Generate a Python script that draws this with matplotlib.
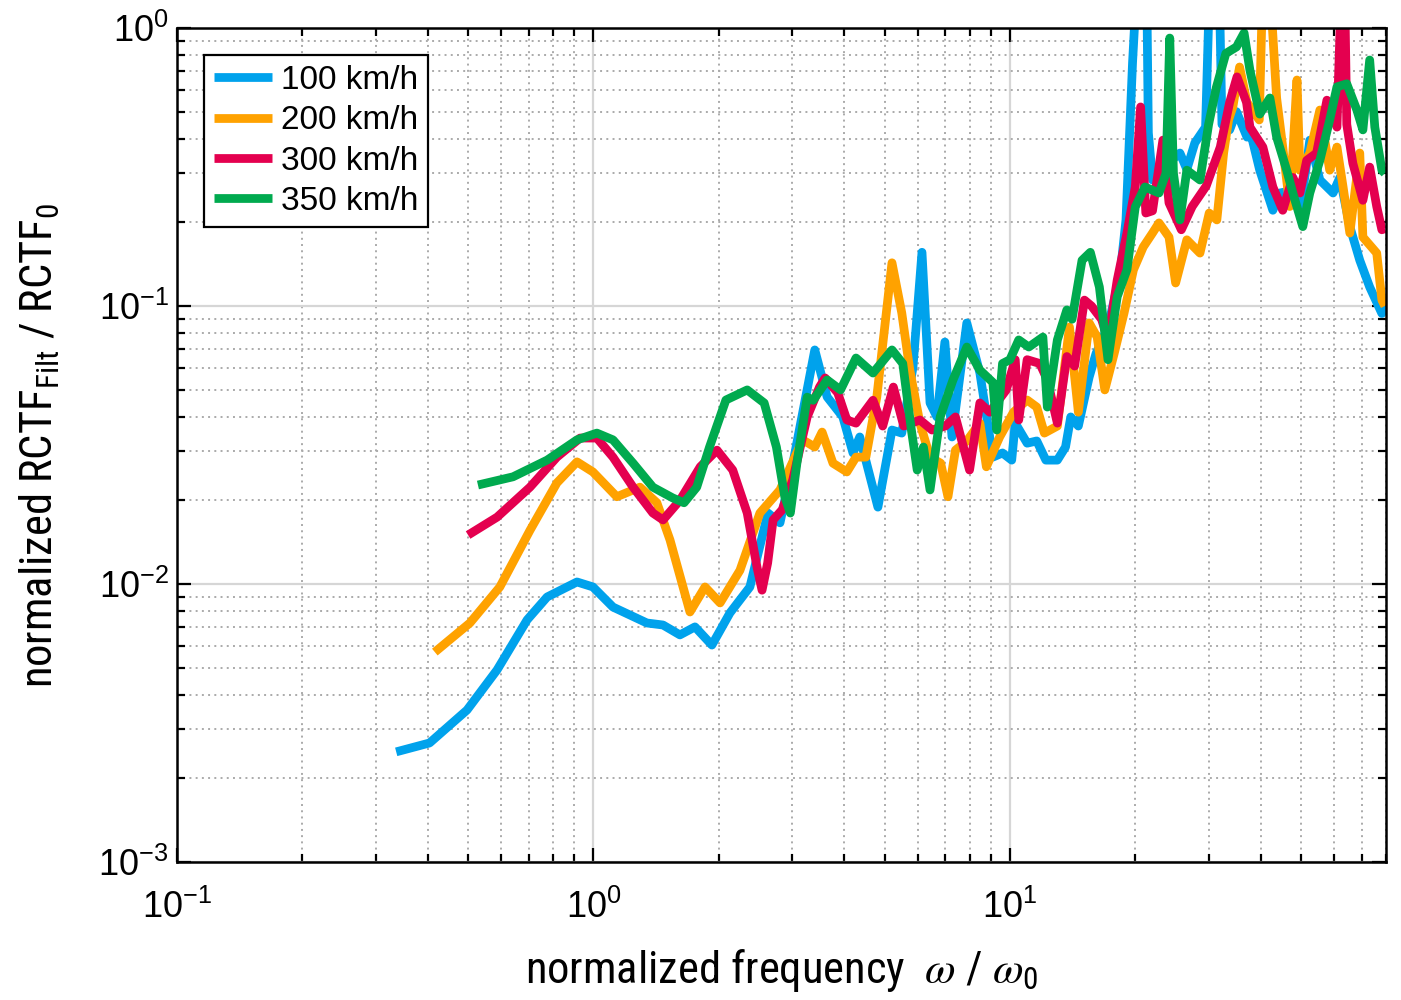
import numpy as np
import matplotlib
matplotlib.use("Agg")
import matplotlib.pyplot as plt
from matplotlib.ticker import LogLocator, NullFormatter


# 100 km/h
x_100 = [0.336, 0.404, 0.497, 0.587, 0.693, 0.774, 0.913, 0.997, 1.114, 1.344,
         1.469, 1.613, 1.753, 1.925, 2.127, 2.375, 2.624, 2.805, 3.013, 3.40,
         3.64, 3.97, 4.20, 4.36, 4.82, 5.21, 5.50, 5.85, 6.15, 6.43, 6.68, 6.98,
         7.26, 7.88, 8.47, 9.1, 9.6, 10.1, 10.3, 11.0, 11.6, 12.2, 13.0, 13.6,
         14.0, 14.6, 15.5, 16.1, 17.2, 18.4, 19.0, 19.7, 20.2, 21.3, 21.5, 22.0,
         23.3, 24.2, 25.6, 26.6, 27.8, 29.5, 30.2, 31.8, 32.3, 33.7, 35.0, 37.1,
         37.7, 39.8, 42.8, 44.5, 47.5, 49.7, 52.5, 55.5, 59.7, 62.0, 65.5, 69.2,
         73.1, 78.2, 79.5]
y_100 = [0.00249, 0.00268, 0.00352, 0.00491, 0.00743, 0.00898, 0.01017, 0.00976,
         0.00826, 0.00724, 0.00712, 0.00656, 0.00701, 0.00603, 0.00787, 0.00976,
         0.0180, 0.0166, 0.0272, 0.0695, 0.0471, 0.0399, 0.0296, 0.0338, 0.0189,
         0.0358, 0.0349, 0.06, 0.156, 0.0448, 0.0399, 0.0742, 0.0338, 0.0869,
         0.0574, 0.0286, 0.0296, 0.0279, 0.0379, 0.0321, 0.0327, 0.0279, 0.0279,
         0.0311, 0.0399, 0.037, 0.0555, 0.0675, 0.084, 0.131, 0.204, 0.75, 1.5,
         1.5, 0.42, 0.284, 0.284, 0.33, 0.355, 0.31, 0.386, 0.44, 1.5, 1.5,
         0.45, 0.43, 0.5, 0.405, 0.43, 0.308, 0.221, 0.255, 0.26, 0.216, 0.395,
         0.284, 0.255, 0.29, 0.193, 0.146, 0.117, 0.094, 0.1]

# 200 km/h
x_200 = [0.416, 0.505, 0.596, 0.704, 0.817, 0.913, 0.997, 1.138, 1.293, 1.420,
         1.527, 1.705, 1.853, 2.014, 2.248, 2.510, 2.805, 3.18, 3.40, 3.54, 3.76,
         4.06, 4.27, 4.51, 4.79, 5.21, 5.50, 5.75, 6.08, 6.43, 6.82, 7.1, 7.40,
         7.88, 8.47, 8.78, 9.45, 10.2, 11.0, 11.6, 12.1, 13.0, 13.9, 14.6, 15.5,
         16.2, 16.9, 17.8, 18.8, 19.8, 20.9, 22.0, 22.8, 24.1, 25.0, 26.6, 28.6,
         30.1, 31.4, 32.6, 33.5, 34.3, 35.6, 37.1, 39.7, 40.5, 42.0, 43.7, 45.2,
         47.0, 48.9, 49.7, 52.5, 55.5, 58.6, 61.0, 63.1, 65.5, 69.2, 70.4, 76.0,
         78.2, 79.5]
y_200 = [0.00569, 0.00724, 0.00976, 0.0156, 0.0231, 0.0275, 0.0253, 0.0206,
         0.0223, 0.0196, 0.0144, 0.00793, 0.00976, 0.00855, 0.0112, 0.0180,
         0.0218, 0.033, 0.0311, 0.0352, 0.0272, 0.0253, 0.0286, 0.0286, 0.047,
         0.143, 0.0944, 0.0588, 0.0379, 0.0286, 0.0272, 0.0206, 0.0303, 0.0327,
         0.0379, 0.0264, 0.0338, 0.0415, 0.0459, 0.0433, 0.0349, 0.037, 0.084,
         0.0415, 0.0869, 0.0773, 0.0499, 0.0675, 0.0944, 0.135, 0.163, 0.183,
         0.199, 0.177, 0.121, 0.173, 0.155, 0.216, 0.204, 0.355, 0.467, 0.52,
         0.724, 0.54, 0.467, 1.5, 1.5, 0.56, 0.373, 0.228, 0.65, 0.308, 0.355,
         0.507, 0.308, 0.373, 0.268, 0.183, 0.355, 0.177, 0.155, 0.105, 0.1]

# 300 km/h
x_300 = [0.500, 0.587, 0.704, 0.817, 0.929, 1.019, 1.114, 1.245, 1.389, 1.469,
         1.613, 1.805, 1.980, 2.16, 2.34, 2.47, 2.54, 2.62, 2.70, 2.84, 3.01,
         3.26, 3.49, 3.60, 3.86, 4.06, 4.27, 4.69, 4.95, 5.25, 5.56, 6.08, 6.5,
         7.0, 7.4, 8.0, 8.47, 8.94, 9.8, 10.3, 10.5, 11.0, 11.8, 12.3, 13.0, 13.7,
         14.3, 15.1, 15.7, 16.6, 17.2, 18.1, 19.1, 20.0, 20.6, 21.2, 22.0, 23.3,
         24.1, 25.8, 27.4, 29.6, 32.0, 33.7, 35.1, 37.0, 37.7, 40.5, 42.8, 45.2,
         47.8, 49.7, 51.6, 54.5, 57.7, 61.0, 62.6, 63.6, 64.4, 66.6, 70.4, 73.1,
         76.0, 78.2, 79.5]
y_300 = [0.0150, 0.0174, 0.0223, 0.0286, 0.0335, 0.0335, 0.0286, 0.0223, 0.018,
         0.017, 0.0200, 0.0264, 0.0303, 0.0257, 0.018, 0.0115, 0.0095, 0.0119,
         0.017, 0.0185, 0.0237, 0.0399, 0.0511, 0.0551, 0.0487, 0.0389, 0.0379,
         0.0458, 0.037, 0.0511, 0.037, 0.0389, 0.0358, 0.037, 0.0399, 0.0257,
         0.0448, 0.0415, 0.0499, 0.0641, 0.0389, 0.0641, 0.0621, 0.0542, 0.0379,
         0.0658, 0.0608, 0.105, 0.1, 0.0896, 0.0755, 0.124, 0.183, 0.268, 0.52,
         0.216, 0.22, 0.395, 0.235, 0.188, 0.228, 0.27, 0.373, 0.54, 0.667,
         0.54, 0.44, 0.373, 0.268, 0.221, 0.29, 0.255, 0.334, 0.355, 0.55, 0.44,
         1.5, 1.5, 0.45, 0.326, 0.24, 0.316, 0.228, 0.188, 0.19]

# 350 km/h
x_350 = [0.528, 0.641, 0.774, 0.913, 1.019, 1.114, 1.245, 1.389, 1.550, 1.65,
         1.77, 1.90, 2.08, 2.34, 2.57, 2.75, 2.88, 2.97, 3.08, 3.26, 3.37, 3.64,
         3.92, 4.27, 4.69, 5.21, 5.53, 5.8, 5.99, 6.2, 6.43, 6.8, 7.3, 7.88,
         8.47, 9.1, 9.3, 9.6, 10.0, 10.5, 11.1, 12.0, 12.3, 13.0, 13.7, 14.1,
         14.9, 15.6, 16.4, 17.2, 18.1, 19.1, 20.0, 21.1, 22.8, 23.7, 24.2, 24.7,
         25.6, 26.6, 28.6, 30.0, 31.3, 33.0, 35.0, 36.5, 37.7, 39.8, 42.1, 43.7,
         46.2, 47.8, 50.5, 52.5, 55.5, 58.6, 61.0, 64.4, 68.1, 70.4, 73.1, 75.2,
         78.2, 79.5]
y_350 = [0.0227, 0.0243, 0.0279, 0.0330, 0.0349, 0.033, 0.0272, 0.0223, 0.0204,
         0.0196, 0.0223, 0.0311, 0.0459, 0.0499, 0.0448, 0.0311, 0.0206, 0.018,
         0.0272, 0.047, 0.0458, 0.0542, 0.0499, 0.065, 0.0574, 0.0695, 0.0621,
         0.0358, 0.0257, 0.0311, 0.0218, 0.0399, 0.0542, 0.0712, 0.0588, 0.0531,
         0.0358, 0.0621, 0.0641, 0.0755, 0.0712, 0.0773, 0.0433, 0.0755, 0.0968,
         0.0896, 0.146, 0.156, 0.117, 0.0641, 0.108, 0.135, 0.227, 0.268, 0.255,
         0.3, 0.92, 0.3, 0.204, 0.308, 0.284, 0.45, 0.61, 0.81, 0.855, 0.96,
         0.705, 0.49, 0.56, 0.405, 0.308, 0.255, 0.193, 0.255, 0.334, 0.467,
         0.614, 0.63, 0.507, 0.43, 0.767, 0.44, 0.308, 0.3]

labels = ["100 km/h", "200 km/h", "300 km/h", "350 km/h"]
colors = ["#00a2ec", "#ffa200", "#e4004f", "#00aa4f"]
series = [(x_100, y_100), (x_200, y_200), (x_300, y_300), (x_350, y_350)]


plt.rcParams["font.family"] = ["Liberation Sans", "DejaVu Sans"]
plt.rcParams["mathtext.fontset"] = "custom"
plt.rcParams["mathtext.rm"] = "Liberation Sans"
plt.rcParams["mathtext.it"] = "Liberation Sans:italic"

fig = plt.figure(figsize=(14.01, 10.0), dpi=100)
ax = fig.add_axes([177 / 1401, 1 - 862 / 1000, 1209 / 1401, 834 / 1000])

for (xs, ys), lab, c in zip(series, labels, colors):
    ax.plot(xs, ys, color=c, lw=6.3, label=lab, solid_joinstyle="round",
            solid_capstyle="butt")

ax.set_xscale("log")
ax.set_yscale("log")
ax.set_xlim(0.1, 80)
ax.set_ylim(1e-3, 1)

ax.xaxis.set_major_locator(LogLocator(base=10, numticks=10))
ax.yaxis.set_major_locator(LogLocator(base=10, numticks=10))
ax.xaxis.set_minor_locator(LogLocator(base=10, subs=np.arange(2, 10), numticks=20))
ax.yaxis.set_minor_locator(LogLocator(base=10, subs=np.arange(2, 10), numticks=20))
ax.xaxis.set_minor_formatter(NullFormatter())
ax.yaxis.set_minor_formatter(NullFormatter())

ax.grid(True, which="major", color="#d6d6d6", lw=1.6, ls="-")
ax.grid(True, which="minor", color="#aaaaaa", lw=1.4, ls=(0, (1, 2.2)))
ax.set_axisbelow(True)

ax.tick_params(which="both", direction="in", top=True, right=True,
               labelsize=26, width=1.6, color="black")
ax.tick_params(which="major", length=10)
ax.tick_params(which="minor", length=5.5)
ax.tick_params(axis="x", pad=20)
ax.tick_params(axis="y", pad=6)
for s in ax.spines.values():
    s.set_linewidth(1.8)

label_font = ["Roboto Condensed", "DejaVu Sans"]
ax.set_xlabel(r"normalized frequency  $\omega$ / $\omega_\mathregular{0}$",
              fontsize=32, family=label_font, labelpad=15, math_fontfamily="stix")
ax.set_ylabel(r"normalized RCTF$_\mathregular{Filt}$ / RCTF$_\mathregular{0}$",
              fontsize=32, family=label_font, labelpad=26)

leg = ax.legend(loc="upper left", bbox_to_anchor=(0.0223, 0.9676),
                borderaxespad=0, fontsize=24, handlelength=1.75,
                handletextpad=0.25, labelspacing=0.28, borderpad=0.3,
                fancybox=False, framealpha=1, edgecolor="black")
leg.get_frame().set_linewidth(1.6)

fig.savefig("out.png", dpi=100)
